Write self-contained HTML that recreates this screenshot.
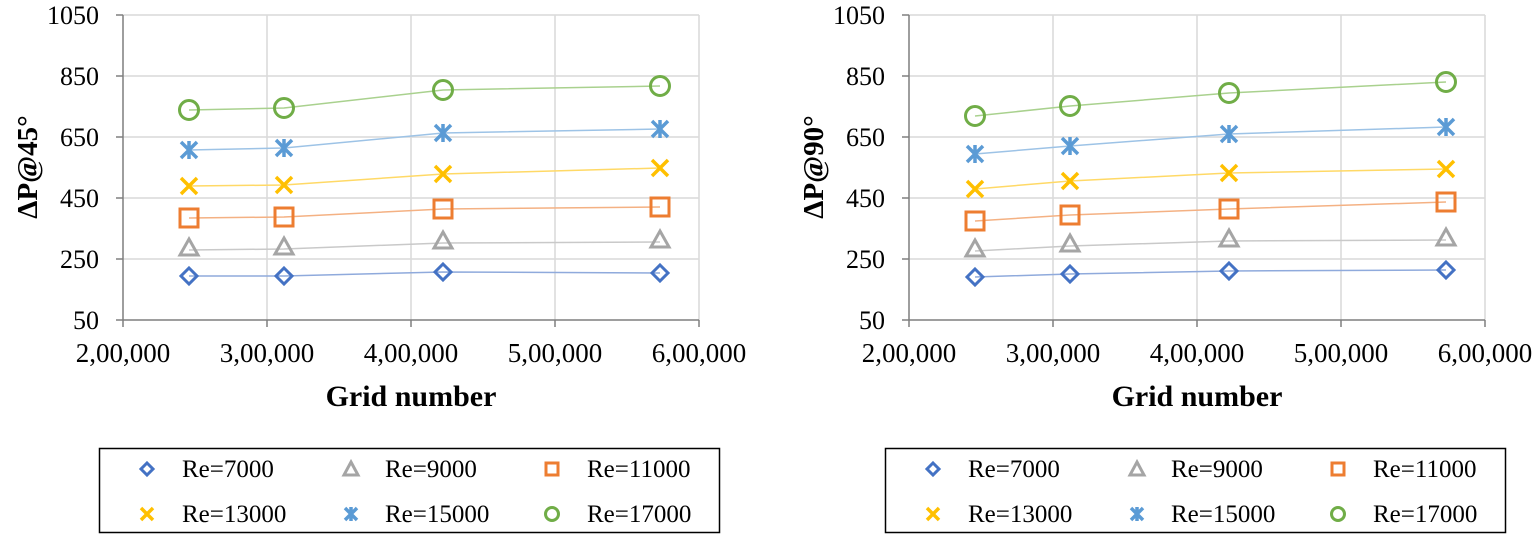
<!DOCTYPE html>
<html><head><meta charset="utf-8"><style>
html,body{margin:0;padding:0;background:#fff}
svg{display:block}
text{font-family:"Liberation Serif",serif;fill:#000}
</style></head><body>
<svg width="1536" height="537" viewBox="0 0 1536 537" xmlns="http://www.w3.org/2000/svg">
<defs>
<g id="dia"><path d="M0,-8 L8,0 L0,8 L-8,0Z" fill="none" stroke="#4472C4" stroke-width="3"/></g>
<g id="tri"><path d="M0,-9 L9,7 L-9,7Z" fill="none" stroke="#A5A5A5" stroke-width="3"/></g>
<g id="sq"><rect x="-9" y="-9" width="18" height="18" fill="none" stroke="#ED7D31" stroke-width="3"/></g>
<g id="x"><path d="M-8,-8 L8,8 M-8,8 L8,-8" stroke="#FFC000" stroke-width="3.5"/></g>
<g id="st"><path d="M-8,-8 L8,8 M-8,8 L8,-8 M0,-9 L0,9" stroke="#5B9BD5" stroke-width="3.5"/></g>
<g id="ci"><circle r="9.5" fill="none" stroke="#70AD47" stroke-width="3"/></g>
<g id="ldia"><path d="M0,-6 L6,0 L0,6 L-6,0Z" fill="none" stroke="#4472C4" stroke-width="3"/></g>
<g id="ltri"><path d="M0,-7 L7,6 L-7,6Z" fill="none" stroke="#A5A5A5" stroke-width="3"/></g>
<g id="lsq"><rect x="-6" y="-6" width="12" height="12" fill="none" stroke="#ED7D31" stroke-width="3"/></g>
<g id="lx"><path d="M-6,-6 L6,6 M-6,6 L6,-6" stroke="#FFC000" stroke-width="3.5"/></g>
<g id="lst"><path d="M-6,-6 L6,6 M-6,6 L6,-6 M0,-7 L0,7" stroke="#5B9BD5" stroke-width="3.5"/></g>
<g id="lci"><circle r="6.5" fill="none" stroke="#70AD47" stroke-width="3"/></g>
<g id="frame">
<g stroke="#d9d9d9" stroke-width="1.5">
<line x1="123" y1="15" x2="699" y2="15"/><line x1="123" y1="76" x2="699" y2="76"/><line x1="123" y1="137" x2="699" y2="137"/><line x1="123" y1="198" x2="699" y2="198"/><line x1="123" y1="259" x2="699" y2="259"/>
<line x1="267" y1="15" x2="267" y2="320"/><line x1="411" y1="15" x2="411" y2="320"/><line x1="555" y1="15" x2="555" y2="320"/><line x1="699" y1="15" x2="699" y2="320"/>
</g>
<g stroke="#7f7f7f" stroke-width="1.5"><line x1="123" y1="15" x2="123" y2="320"/><line x1="123" y1="320" x2="699" y2="320"/>
<line x1="116" y1="15" x2="123" y2="15"/><line x1="116" y1="76" x2="123" y2="76"/><line x1="116" y1="137" x2="123" y2="137"/><line x1="116" y1="198" x2="123" y2="198"/><line x1="116" y1="259" x2="123" y2="259"/><line x1="116" y1="320" x2="123" y2="320"/>
<line x1="123" y1="320" x2="123" y2="327"/><line x1="267" y1="320" x2="267" y2="327"/><line x1="411" y1="320" x2="411" y2="327"/><line x1="555" y1="320" x2="555" y2="327"/><line x1="699" y1="320" x2="699" y2="327"/></g>
<g font-size="26" text-anchor="end"><text x="99" y="24">1050</text><text x="99" y="85">850</text><text x="99" y="146">650</text><text x="99" y="207">450</text><text x="99" y="268">250</text><text x="99" y="329">50</text></g>
<g font-size="27" text-anchor="middle"><text x="123" y="362">2,00,000</text><text x="267" y="362">3,00,000</text><text x="411" y="362">4,00,000</text><text x="555" y="362">5,00,000</text><text x="699" y="362">6,00,000</text></g>
<text x="411" y="406" font-size="30" font-weight="bold" text-anchor="middle">Grid number</text>
<rect x="99.5" y="448.5" width="620" height="84" fill="none" stroke="#000" stroke-width="1.5"/>
<g font-size="25">
<use href="#ldia" x="147" y="469"/><text x="182" y="477">Re=7000</text>
<use href="#ltri" x="351" y="469"/><text x="385" y="477">Re=9000</text>
<use href="#lsq" x="552" y="469"/><text x="587" y="477">Re=11000</text>
<use href="#lx" x="147" y="514"/><text x="182" y="522">Re=13000</text>
<use href="#lst" x="351" y="514"/><text x="385" y="522">Re=15000</text>
<use href="#lci" x="552" y="514"/><text x="587" y="522">Re=17000</text>
</g>
</g>
</defs>

<!-- LEFT CHART -->
<g>
<use href="#frame"/>
<text transform="translate(37,167) rotate(-90)" font-size="29" font-weight="bold" text-anchor="middle">ΔP@45°</text>
<g fill="none" stroke-width="1.5">
<polyline stroke="#A9D18E" points="189,110 284,108 443,90 660,86"/>
<polyline stroke="#9DC3E6" points="189,150 284,148 443,133 660,129"/>
<polyline stroke="#FFD966" points="189,186 284,185 443,174 660,168"/>
<polyline stroke="#F4B183" points="189,218 284,217 443,209 660,207"/>
<polyline stroke="#C9C9C9" points="189,250 284,249 443,243 660,242"/>
<polyline stroke="#8FAADC" points="189,276 284,276 443,272 660,273"/>
</g>
<use href="#ci" x="189" y="110"/><use href="#ci" x="284" y="108"/><use href="#ci" x="443" y="90"/><use href="#ci" x="660" y="86"/>
<use href="#st" x="189" y="150"/><use href="#st" x="284" y="148"/><use href="#st" x="443" y="133"/><use href="#st" x="660" y="129"/>
<use href="#x" x="189" y="186"/><use href="#x" x="284" y="185"/><use href="#x" x="443" y="174"/><use href="#x" x="660" y="168"/>
<use href="#sq" x="189" y="218"/><use href="#sq" x="284" y="217"/><use href="#sq" x="443" y="209"/><use href="#sq" x="660" y="207"/>
<use href="#tri" x="189" y="248"/><use href="#tri" x="284" y="247"/><use href="#tri" x="443" y="241"/><use href="#tri" x="660" y="240"/>
<use href="#dia" x="189" y="276"/><use href="#dia" x="284" y="276"/><use href="#dia" x="443" y="272"/><use href="#dia" x="660" y="273"/>
</g>

<!-- RIGHT CHART -->
<g transform="translate(786,0)">
<use href="#frame"/>
<text transform="translate(37,167) rotate(-90)" font-size="29" font-weight="bold" text-anchor="middle">ΔP@90°</text>
<g fill="none" stroke-width="1.5">
<polyline stroke="#A9D18E" points="189,116 284,106 443,93 660,82"/>
<polyline stroke="#9DC3E6" points="189,154 284,146 443,134 660,127"/>
<polyline stroke="#FFD966" points="189,189 284,181 443,173 660,169"/>
<polyline stroke="#F4B183" points="189,221 284,215 443,209 660,202"/>
<polyline stroke="#C9C9C9" points="189,251 284,246 443,241 660,240"/>
<polyline stroke="#8FAADC" points="189,277 284,274 443,271 660,270"/>
</g>
<use href="#ci" x="189" y="116"/><use href="#ci" x="284" y="106"/><use href="#ci" x="443" y="93"/><use href="#ci" x="660" y="82"/>
<use href="#st" x="189" y="154"/><use href="#st" x="284" y="146"/><use href="#st" x="443" y="134"/><use href="#st" x="660" y="127"/>
<use href="#x" x="189" y="189"/><use href="#x" x="284" y="181"/><use href="#x" x="443" y="173"/><use href="#x" x="660" y="169"/>
<use href="#sq" x="189" y="221"/><use href="#sq" x="284" y="215"/><use href="#sq" x="443" y="209"/><use href="#sq" x="660" y="202"/>
<use href="#tri" x="189" y="249"/><use href="#tri" x="284" y="244"/><use href="#tri" x="443" y="239"/><use href="#tri" x="660" y="238"/>
<use href="#dia" x="189" y="277"/><use href="#dia" x="284" y="274"/><use href="#dia" x="443" y="271"/><use href="#dia" x="660" y="270"/>
</g>
</svg>
</body></html>
